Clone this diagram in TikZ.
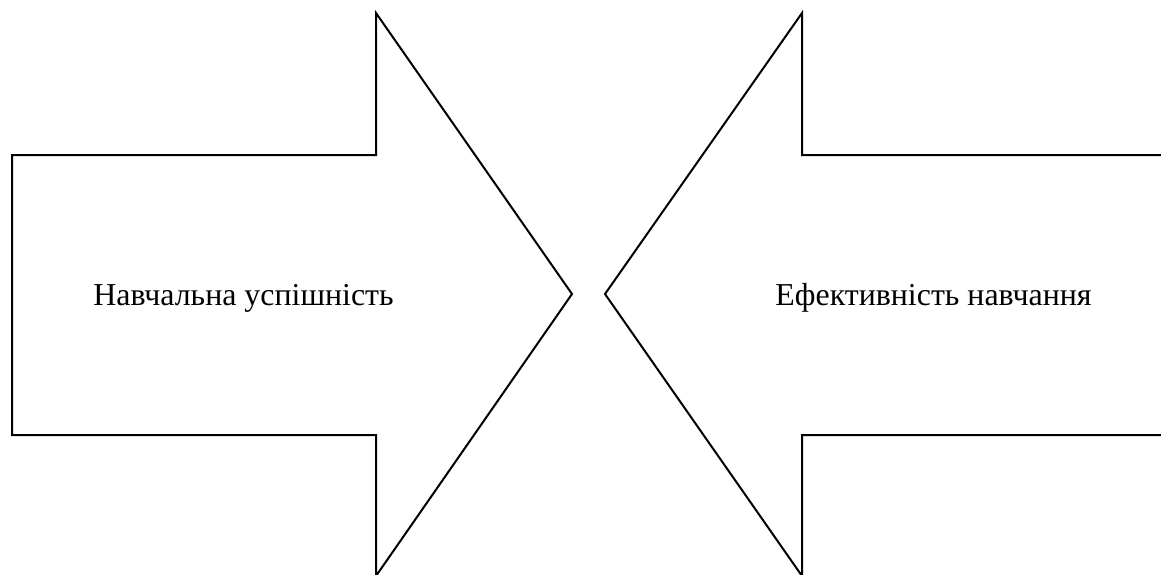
\documentclass[tikz,border=0pt]{standalone}
\usepackage{fontspec}
\setmainfont{Liberation Serif}
\begin{document}
\begin{tikzpicture}[x=1pt,y=-1pt,
  arrowshape/.style={draw=black,line width=2pt,line join=miter,fill=white},
  lbl/.style={font=\fontsize{31.9}{38}\selectfont,inner sep=0pt,anchor=base}]
\useasboundingbox (0,0) rectangle (1161,575);
\begin{scope}
\clip (0,0) rectangle (1161,575);
\draw[arrowshape] (12,155) -- (376,155) -- (376,13) -- (572,294) -- (376,576) -- (376,435) -- (12,435) -- cycle;
\draw[arrowshape] (1170,155) -- (802,155) -- (802,13) -- (605,294) -- (802,576) -- (802,435) -- (1170,435) -- cycle;
\end{scope}
\node[lbl] (left) at (243.5,305.5) {Навчальна успішність};
\node[lbl] (right) at (933.5,305.5) {Ефективність навчання};
\end{tikzpicture}
\end{document}
